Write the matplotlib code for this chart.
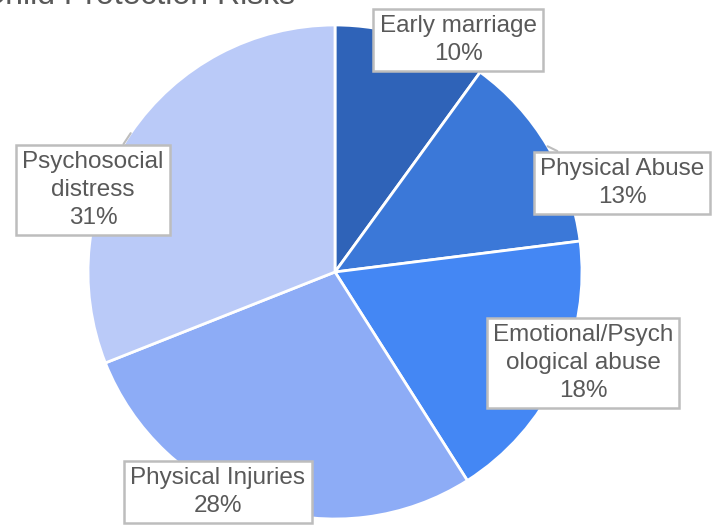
import numpy as np
import matplotlib.pyplot as plt

plt.rcParams['font.family'] = ['Liberation Sans', 'DejaVu Sans']

labels = ['Early marriage', 'Physical Abuse', 'Emotional/Psych\nological abuse',
          'Physical Injuries', 'Psychosocial\ndistress']
values = [10, 13, 18, 28, 31]
colors = ['#2F63B8', '#3B78D8', '#4487F4', '#8DACF6', '#BACAF8']
# label box centres, in pixels from top-left
box_pos = [(458, 40), (622, 183), (583, 363), (218, 492), (93, 190)]

W, H = 718, 527
fig = plt.figure(figsize=(W / 100, H / 100), dpi=100)
ax = fig.add_axes([0, 0, 1, 1])

cx, cy, r = 335, H - 272, 247
ax.pie(values, colors=colors, startangle=90, counterclock=False,
       center=(cx, cy), radius=r, frame=True,
       wedgeprops=dict(edgecolor='white', linewidth=2))
ax.set_xlim(0, W)
ax.set_ylim(0, H)
ax.set_aspect('equal')
ax.axis('off')

total = sum(values)
start = 90.0
for lab, v, (bx, by) in zip(labels, values, box_pos):
    mid = np.deg2rad(start - 360 * v / total / 2)
    start -= 360 * v / total
    ex, ey = cx + r * np.cos(mid), cy + r * np.sin(mid)
    ax.annotate(f'{lab}\n{v}%', xy=(ex, ey), xytext=(bx, H - by),
                ha='center', va='center', fontsize=17.5, color='#595959',
                linespacing=1.35,
                bbox=dict(boxstyle='square,pad=0.25', fc='white', ec='#BDBDBD', lw=1.8),
                arrowprops=dict(arrowstyle='-', color='#BDBDBD', lw=1.5,
                                shrinkA=0, shrinkB=0))

ax.text(-18, H - 4, 'Child Protection Risks', fontsize=23, color='#595959',
        ha='left', va='baseline')

fig.savefig('out.png', dpi=100)
